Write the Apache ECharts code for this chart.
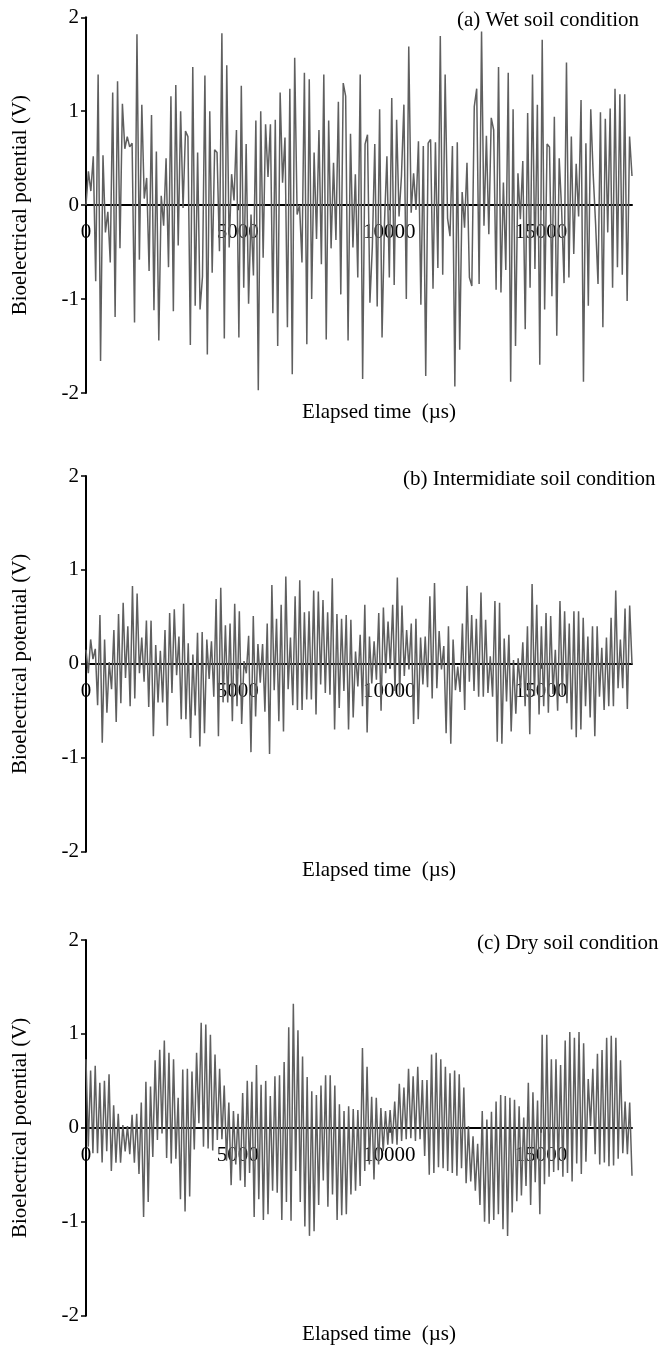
<!DOCTYPE html>
<html><head><meta charset="utf-8">
<script src="https://cdn.jsdelivr.net/npm/echarts@6/dist/echarts.min.js"></script>
<style>html,body{margin:0;padding:0;background:#fff}#chart{width:666px;height:1346px}</style>
</head><body><div id="chart"></div>
<script>
const timeMaxUs = 18000;
const xTickValues = [0, 5000, 10000, 15000];
const yMin = -2, yMax = 2, yStep = 1;
const panelTitles = ['(a) Wet soil condition', '(b) Intermidiate soil condition', '(c) Dry soil condition'];
const xAxisTitle = 'Elapsed time  (\u00b5s)';
const yAxisTitle = 'Bioelectrical potential (V)';

const wetSoil = [
 0.0,0.36,0.15,0.52,-0.81,1.39,-1.66,0.53,-0.29,-0.07,
 -0.61,1.20,-1.19,1.32,-0.46,1.08,0.60,0.73,0.62,0.66,
 -1.25,1.82,-0.58,1.07,0.07,0.29,-0.70,0.96,-1.12,0.57,
 -1.44,0.10,-0.22,0.50,-0.66,1.16,-1.13,1.28,-0.43,1.00,
 -0.03,0.79,0.73,-1.49,1.47,-1.07,0.56,-1.11,-0.76,1.38,
 -1.59,1.00,-0.72,0.59,0.56,-0.49,1.83,-1.42,1.49,-0.45,
 0.33,0.05,0.80,-1.41,1.27,-0.88,0.65,-1.05,-0.10,-0.75,
 0.90,-1.97,1.00,-0.56,0.86,0.30,0.86,-1.15,0.91,-1.50,1.20,
 0.24,0.72,-1.30,1.24,-1.80,1.57,-0.10,0.0,-0.61,1.41,
 -1.48,1.34,-1.00,0.56,-0.36,0.80,-0.63,1.39,-1.43,0.90,
 -0.46,0.45,-0.37,1.10,-0.95,1.30,1.16,-1.44,0.76,-0.45,
 0.33,-0.77,1.39,-1.85,0.65,0.75,-1.04,-0.44,0.65,-1.08,
 1.02,-1.41,-0.19,0.52,-0.77,1.14,-0.85,0.91,-0.12,0.31,
 1.07,-1.00,1.69,-0.08,0.34,-0.05,0.68,-1.06,0.63,-1.82,
 0.66,0.70,-0.89,0.67,-0.67,1.80,-0.74,1.39,-0.14,-0.33,0.63,-1.93,0.67,
 -1.54,0.14,-0.24,0.45,-0.77,-0.86,1.05,1.24,-0.84,1.85,
 -0.22,0.74,-0.31,0.93,0.80,-0.90,1.47,-0.93,0.24,-0.69,
 1.41,-1.88,1.02,-1.50,0.34,-0.15,0.47,-1.32,0.98,-0.88,
 1.39,-0.68,1.07,-1.70,1.76,-1.11,0.65,0.62,-0.97,0.94,
 -1.39,0.50,-0.05,-0.83,1.52,-0.77,0.73,-0.52,0.44,-0.12,
 1.12,-1.88,0.66,-1.07,1.02,0.33,-0.20,-0.84,0.99,-1.30,
 0.92,-0.29,1.03,-0.88,1.24,-0.66,1.18,-0.74,1.18,-1.02,0.73,0.31
];

const intermediateSoil = [
 0.15,-0.10,0.26,0.05,0.16,-0.44,0.52,-0.84,0.26,-0.52,
 0.02,-0.27,0.36,-0.62,0.53,-0.42,0.65,-0.15,0.40,-0.45,
 0.83,-0.37,0.75,-0.10,0.28,-0.19,0.46,-0.46,0.46,-0.77,
 0.20,-0.41,0.14,-0.41,0.36,-0.66,0.54,-0.31,0.58,-0.12,
 0.29,-0.59,0.64,-0.59,0.22,-0.79,0.10,-0.55,0.33,-0.88,
 0.34,-0.74,0.26,-0.16,0.24,-0.35,0.69,-0.77,0.81,-0.41,
 0.41,-0.41,0.43,-0.61,0.64,-0.45,0.56,-0.64,0.03,-0.10,
 0.30,-0.94,0.51,-0.56,0.21,-0.20,0.21,-0.51,0.43,-0.96,
 0.84,-0.28,0.48,-0.61,0.63,-0.72,0.93,-0.27,0.28,-0.44,
 0.72,-0.49,0.89,-0.49,0.55,-0.38,0.56,-0.38,0.78,-0.54,
 0.77,-0.22,0.68,-0.31,0.55,-0.33,0.91,-0.70,0.53,-0.47,
 0.48,-0.29,0.52,-0.70,0.47,-0.57,0.13,-0.24,0.31,
 -0.45,0.63,-0.73,0.29,-0.21,0.24,-0.17,0.54,-0.50,0.60,
 -0.10,0.45,-0.03,0.63,-0.29,0.92,-0.34,0.62,-0.13,0.36,
 -0.06,0.43,-0.64,0.48,-0.59,0.28,-0.22,0.29,-0.25,0.72,
 -0.37,0.86,-0.26,0.35,-0.06,0.19,-0.74,0.40,-0.85,0.26,
 -0.28,-0.03,-0.30,0.43,-0.49,0.83,-0.19,0.52,-0.29,0.48,
 -0.35,0.76,-0.35,0.47,-0.31,0.08,-0.35,0.67,-0.83,0.65,
 -0.85,0.27,-0.40,0.31,-0.72,0.04,-0.53,0.06,-0.26,0.23,
 -0.45,0.40,-0.75,0.85,-0.34,0.63,-0.54,0.40,-0.45,0.54,
 -0.52,0.51,-0.32,0.15,-0.50,0.67,-0.34,0.56,-0.42,0.43,
 -0.70,0.56,-0.78,0.56,-0.70,0.49,-0.45,0.29,-0.57,0.40,
 -0.77,0.40,-0.35,0.17,-0.49,0.28,-0.45,0.49,-0.45,0.78,
 -0.26,0.26,-0.26,0.59,-0.48,0.62,0.0
];

const drySoil = [
 0.73,-0.20,0.61,-0.27,0.66,-0.27,0.48,-0.37,0.50,-0.25,0.57,-0.46,0.24,-0.37,0.15,-0.37,0.03,-0.25,0.02,-0.28,
 0.14,-0.37,0.15,-0.49,0.27,-0.95,0.49,-0.79,0.44,-0.31,0.72,-0.13,0.83,-0.06,0.93,-0.32,0.80,-0.38,0.73,-0.33,
 0.32,-0.76,0.62,-0.89,0.63,-0.73,0.60,-0.23,0.80,0.05,1.12,-0.20,1.10,-0.22,0.99,-0.24,0.78,-0.13,0.63,-0.12,
 0.45,-0.35,0.27,-0.61,0.18,-0.39,0.15,-0.56,0.37,-0.63,0.50,-0.48,0.49,-0.95,0.67,-0.76,0.46,-0.98,0.50,-0.92,
 0.34,-0.67,0.55,-0.69,0.56,-0.98,0.70,-0.79,1.07,-0.99,1.32,-0.46,1.04,-0.79,0.76,-1.05,0.54,-1.15,0.39,-1.10,
 0.35,-0.82,0.45,-0.56,0.56,-0.84,0.56,-0.71,0.45,-0.98,0.25,-0.93,0.18,-0.92,0.23,-0.71,0.20,-0.67,
 0.19,-0.62,0.85,-0.46,0.65,-0.39,0.33,-0.55,0.32,-0.39,0.21,-0.25,0.18,-0.18,0.19,-0.17,0.28,-0.18,0.47,-0.14,
 0.43,-0.12,0.63,-0.11,0.55,-0.14,0.65,-0.12,0.51,-0.30,0.51,-0.50,0.78,-0.48,0.80,-0.42,0.73,-0.43,0.65,-0.46,
 0.58,-0.48,0.61,-0.51,0.57,-0.43,0.43,-0.59,0.02,-0.57,-0.09,-0.67,-0.17,-0.82,0.18,-1.00,0.09,-1.02,0.17,-0.98,
 0.28,-0.92,0.35,-1.08,0.34,-1.15,0.32,-0.90,0.30,-0.78,0.23,-0.72,0.11,-0.62,0.48,-0.82,0.38,-0.58,0.29,-0.92,
 0.99,-0.60,0.99,-0.52,0.73,-0.47,0.73,-0.45,0.67,-0.52,0.93,-0.48,1.02,-0.57,0.96,-0.38,1.02,-0.49,0.90,-0.36,
 0.52,0.02,0.63,-0.28,0.79,-0.39,0.83,-0.37,0.96,-0.41,0.98,-0.40,0.96,-0.33,0.72,-0.27,0.28,-0.28,0.27,-0.51
];

const seriesList = [wetSoil, intermediateSoil, drySoil];

// layout (pixels)
const FONT = '"Liberation Serif", "Times New Roman", Times, serif';
const FS = 21;
const gridLeft = 86, gridRight = 34, gridH = 375.7;
const gridTops = [17.3, 476, 940];
const titleLefts = [457, 403, 477];
const titleOffsetY = 3;
const xNameX = 379, xNameOffsetY = 19;

function toPairs(vals) {
  const step = timeMaxUs / (vals.length - 1);
  return vals.map((v, i) => [i * step, v]);
}

const chart = echarts.init(document.getElementById('chart'), null, {renderer: 'canvas'});
const grids = [], xAxes = [], yAxes = [], series = [], graphics = [];
seriesList.forEach((vals, k) => {
  grids.push({left: gridLeft, right: gridRight, top: gridTops[k], height: gridH});
  xAxes.push({
    type: 'value', gridIndex: k, min: 0, max: timeMaxUs, interval: 5000,
    position: 'bottom', offset: -gridH / 2,
    axisLine: {show: true, onZero: false, lineStyle: {color: '#000', width: 2}},
    axisTick: {show: true, length: 5, inside: false, lineStyle: {color: '#000', width: 1.5}, customValues: xTickValues},
    axisLabel: {color: '#000', fontSize: FS, fontFamily: FONT, margin: 17, customValues: xTickValues,
      formatter: v => String(v)},
    splitLine: {show: false}
  });
  yAxes.push({
    type: 'value', gridIndex: k, min: yMin, max: yMax, interval: yStep,
    axisLine: {show: true, onZero: false, lineStyle: {color: '#000', width: 2}},
    axisTick: {show: true, length: 5, inside: false, lineStyle: {color: '#000', width: 1.5}},
    axisLabel: {color: '#000', fontSize: FS, fontFamily: FONT, margin: 7},
    splitLine: {show: false},
    name: yAxisTitle, nameLocation: 'middle', nameGap: 55,
    nameTextStyle: {color: '#000', fontSize: FS, fontFamily: FONT}
  });
  series.push({
    type: 'line', xAxisIndex: k, yAxisIndex: k, data: toPairs(vals),
    showSymbol: false, symbol: 'none', animation: false,
    lineStyle: {color: '#5f5f5f', width: 1.5}, z: 3
  });
  graphics.push({
    type: 'text', x: titleLefts[k], y: gridTops[k] + titleOffsetY,
    style: {text: panelTitles[k], font: FS + 'px ' + FONT, fill: '#000', textAlign: 'left', textVerticalAlign: 'middle'}
  });
  graphics.push({
    type: 'text', x: xNameX, y: gridTops[k] + gridH + xNameOffsetY,
    style: {text: xAxisTitle, font: FS + 'px ' + FONT, fill: '#000', textAlign: 'center', textVerticalAlign: 'middle'}
  });
});

chart.setOption({
  animation: false,
  backgroundColor: '#fff',
  grid: grids, xAxis: xAxes, yAxis: yAxes, series: series,
  graphic: graphics
});
</script></body></html>
